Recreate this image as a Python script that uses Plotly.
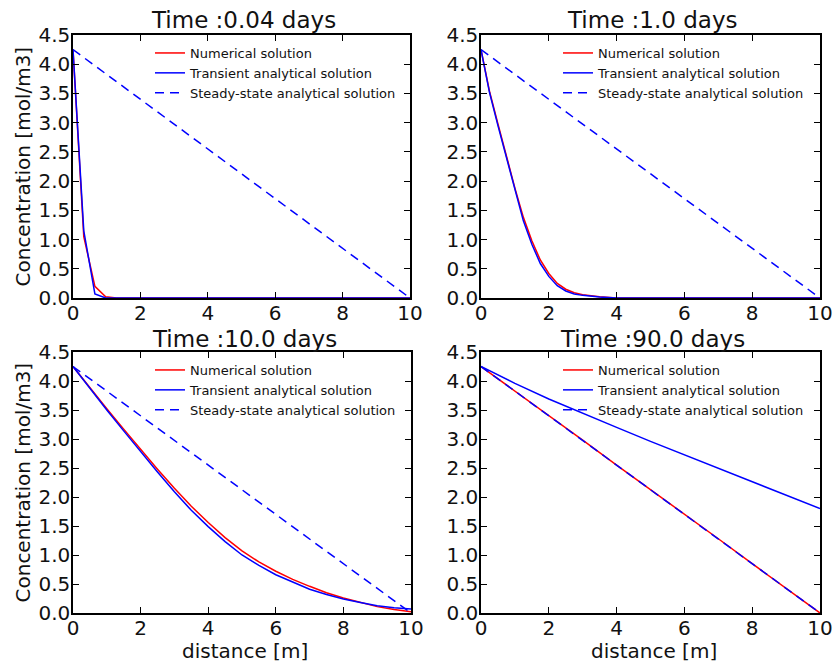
import plotly.graph_objects as go

# ---------------- data ----------------
panel_titles = ["Time :0.04 days", "Time :1.0 days", "Time :10.0 days", "Time :90.0 days"]
series_names = ["Numerical solution", "Transient analytical solution", "Steady-state analytical solution"]

# steady state (same in every panel)
steady_x = [0, 10]
steady_y = [4.25, 0.0]

# t = 0.04 days
x_004_num = [0, 0.32, 0.65, 0.97, 1.29, 10]
y_004_num = [4.25, 1.05, 0.20, 0.02, 0.0, 0.0]
x_004_tra = [0, 0.32, 0.65, 0.97, 10]
y_004_tra = [4.25, 1.15, 0.07, 0.0, 0.0]

# t = 1.0 days
x_1_grid = [0, 0.25, 0.5, 0.75, 1.0, 1.25, 1.5, 1.75, 2.0, 2.25, 2.5, 2.75, 3.0, 3.5, 4.0, 10]
y_1_num = [4.25, 3.54, 2.98, 2.43, 1.88, 1.38, 0.98, 0.65, 0.42, 0.25, 0.15, 0.09, 0.055, 0.02, 0.0, 0.0]
y_1_tra = [4.25, 3.52, 2.95, 2.39, 1.83, 1.32, 0.92, 0.59, 0.37, 0.21, 0.12, 0.07, 0.045, 0.015, 0.0, 0.0]

# t = 10.0 days
x_10_grid = [0, 0.5, 1, 1.5, 2, 2.5, 3, 3.5, 4, 4.5, 5, 5.5, 6, 6.5, 7, 7.5, 8, 8.5, 9, 9.5, 10]
y_10_num = [4.25, 3.88, 3.52, 3.17, 2.82, 2.48, 2.15, 1.84, 1.56, 1.30, 1.07, 0.88, 0.72, 0.58, 0.46, 0.35, 0.26, 0.18, 0.11, 0.06, 0.02]
y_10_tra = [4.25, 3.87, 3.50, 3.14, 2.78, 2.43, 2.09, 1.77, 1.49, 1.23, 1.00, 0.82, 0.66, 0.53, 0.41, 0.32, 0.24, 0.18, 0.125, 0.09, 0.07]

# t = 90.0 days
x_90_grid = [0, 1, 2, 3, 4, 5, 6, 7, 8, 9, 10]
y_90_num = [4.25, 3.83, 3.40, 2.98, 2.55, 2.13, 1.70, 1.28, 0.85, 0.43, 0.0]
y_90_tra = [4.25, 3.96, 3.69, 3.44, 3.20, 2.96, 2.73, 2.50, 2.26, 2.03, 1.80]

x_ticks = [0, 2, 4, 6, 8, 10]
y_ticks = [0.0, 0.5, 1.0, 1.5, 2.0, 2.5, 3.0, 3.5, 4.0, 4.5]

panels = [
    (x_004_num, y_004_num, x_004_tra, y_004_tra),
    (x_1_grid, y_1_num, x_1_grid, y_1_tra),
    (x_10_grid, y_10_num, x_10_grid, y_10_tra),
    (x_90_grid, y_90_num, x_90_grid, y_90_tra),
]

# ---------------- layout geometry (pixels) ----------------
W, H = 837, 666
FONT = "DejaVu Sans"
px_x = [(73, 410), (481, 820), (73, 411), (481, 820)]
px_y = [(35, 298), (35, 298), (352, 613), (352, 613)]

def fx(p):
    return p / W

def fy(p):
    return 1 - p / H

fig = go.Figure()
layout = dict(
    template="none",
    width=W, height=H,
    margin=dict(l=0, r=0, t=0, b=0, autoexpand=False),
    paper_bgcolor="white", plot_bgcolor="white",
    font=dict(family=FONT, color="black", size=20),
    showlegend=True,
)
annotations = []

for i, (xn, yn, xt, yt) in enumerate(panels):
    k = i + 1
    xa = "x" if k == 1 else f"x{k}"
    ya = "y" if k == 1 else f"y{k}"
    lg = "legend" if k == 1 else f"legend{k}"
    fig.add_trace(go.Scatter(x=xn, y=yn, mode="lines", name=series_names[0],
                             line=dict(color="#ff0000", width=1.5),
                             xaxis=xa, yaxis=ya, legend=lg))
    fig.add_trace(go.Scatter(x=xt, y=yt, mode="lines", name=series_names[1],
                             line=dict(color="#0000ff", width=1.5),
                             xaxis=xa, yaxis=ya, legend=lg))
    fig.add_trace(go.Scatter(x=steady_x, y=steady_y, mode="lines", name=series_names[2],
                             line=dict(color="#0000ff", width=1.5, dash="9px,6px"),
                             xaxis=xa, yaxis=ya, legend=lg))

    x0, x1 = px_x[i]
    y0, y1 = px_y[i]
    axcommon = dict(showline=True, linecolor="black", linewidth=1.5, mirror="ticks",
                    ticks="inside", ticklen=6, tickwidth=1, tickcolor="black",
                    showgrid=False, zeroline=False, automargin=False,
                    tickfont=dict(family=FONT, size=20, color="#111"))
    layout["xaxis" if k == 1 else f"xaxis{k}"] = dict(
        axcommon, domain=[fx(x0), fx(x1)], range=[0, 10], tickvals=x_ticks,
        ticktext=[str(v) for v in x_ticks], anchor=ya, ticklabelstandoff=-4)
    layout["yaxis" if k == 1 else f"yaxis{k}"] = dict(
        axcommon, domain=[fy(y1), fy(y0)], range=[0, 4.5], tickvals=y_ticks,
        ticktext=[f"{v:.1f}" for v in y_ticks], anchor=xa, ticklabelstandoff=-3)

    # legend inside panel
    layout[lg] = dict(x=fx(x0 + 77), y=fy(y0 + 3), xanchor="left", yanchor="top",
                      bgcolor="rgba(0,0,0,0)", borderwidth=0,
                      font=dict(family=FONT, size=13, color="#111"))

    # panel title
    title_off = 15 if i < 2 else 13
    annotations.append(dict(text=panel_titles[i], x=fx((x0 + x1) / 2 + 2), y=fy(y0 - title_off),
                            xref="paper", yref="paper", showarrow=False,
                            xanchor="center", yanchor="middle",
                            font=dict(family=FONT, size=23, color="#111")))

# axis titles
for i in (0, 2):
    y0, y1 = px_y[i]
    annotations.append(dict(text="Concentration [mol/m3]", x=fx(22), y=fy((y0 + y1) / 2),
                            xref="paper", yref="paper", showarrow=False, textangle=-90,
                            xanchor="center", yanchor="middle",
                            font=dict(family=FONT, size=20, color="#111")))
for i in (2, 3):
    x0, x1 = px_x[i]
    annotations.append(dict(text="distance [m]", x=fx((x0 + x1) / 2 + 3), y=fy(651),
                            xref="paper", yref="paper", showarrow=False,
                            xanchor="center", yanchor="middle",
                            font=dict(family=FONT, size=20, color="#111")))

layout["annotations"] = annotations
fig.update_layout(**layout)
fig.write_html("out.html", config={"displayModeBar": False},
               post_script="document.body.style.margin='0';document.body.style.overflow='hidden';")
